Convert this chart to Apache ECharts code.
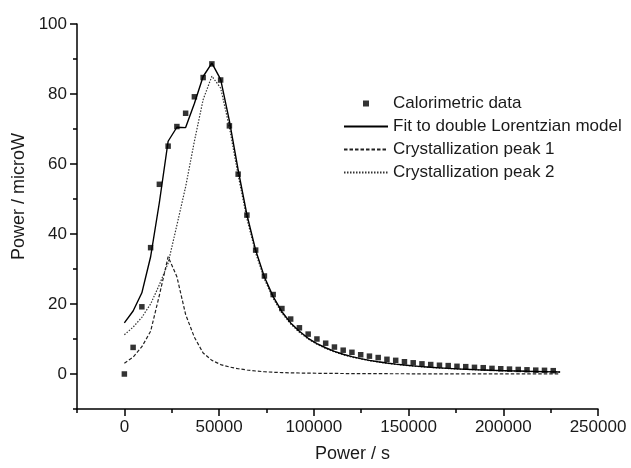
<!DOCTYPE html>
<html>
<head>
<meta charset="utf-8">
<script src="https://cdn.jsdelivr.net/npm/echarts@6/dist/echarts.min.js"></script>
<style>
html,body{margin:0;padding:0;background:#fff;}
#chart{width:631px;height:468px;}
</style>
</head>
<body>
<div id="chart"></div>
<script>
// Time values (s) at which data and model curves are given
const times = [0,4620,9240,13860,18480,23100,27720,32340,36960,41580,46200,50820,55440,60060,64680,69300,73920,78540,83160,87780,92400,97020,101640,106260,110880,115500,120120,124740,129360,133980,138600,143220,147840,152460,157080,161700,166320,170940,175560,180180,184800,189420,194040,198660,203280,207900,212520,217140,221760,226380,230000];

// Calorimetric data (microW)
const calorimetric = [0,7.6,19.2,36.1,54.2,65.1,70.7,74.5,79.2,84.7,88.6,84.0,70.9,57.1,45.4,35.4,28.0,22.7,18.7,15.7,13.2,11.4,10.0,8.8,7.7,6.8,6.2,5.5,5.1,4.7,4.2,3.9,3.5,3.2,2.9,2.7,2.5,2.4,2.2,2.1,1.9,1.8,1.6,1.5,1.4,1.3,1.2,1.1,1.05,0.95];

// Fit to double Lorentzian model
const fitValues = [14.6,18.0,23.2,33.5,49.0,66.5,70.5,70.4,77.3,85.0,88.8,84.2,72.3,58.3,45.5,35.4,27.7,22.1,17.8,14.6,12.2,10.2,8.7,7.5,6.45,5.65,4.95,4.4,3.9,3.5,3.13,2.82,2.57,2.31,2.11,1.92,1.75,1.61,1.47,1.36,1.25,1.16,1.06,0.98,0.91,0.85,0.78,0.73,0.67,0.62,0.59];

// Crystallization peak 1
const peak1 = [3.1,4.8,7.8,12.2,22.5,33.5,27.8,17.0,10.5,6.0,3.9,2.7,2.0,1.5,1.15,0.85,0.65,0.5,0.4,0.33,0.28,0.24,0.21,0.18,0.16,0.14,0.12,0.11,0.1,0.09,0.08,0.07,0.07,0.06,0.06,0.05,0.05,0.05,0.04,0.04,0.04,0.04,0.03,0.03,0.03,0.03,0.03,0.03,0.02,0.02,0.02];

// Crystallization peak 2
const peak2 = [11.2,13.4,16.2,20.0,25.5,31.7,42.5,53.5,66.5,78.4,85.1,81.7,70.5,56.8,44.4,34.6,27.1,21.6,17.4,14.3,11.9,10.0,8.5,7.3,6.3,5.5,4.8,4.3,3.8,3.4,3.05,2.75,2.5,2.25,2.05,1.87,1.7,1.56,1.43,1.32,1.21,1.12,1.03,0.95,0.88,0.82,0.75,0.7,0.65,0.6,0.57];

// Axis ticks
const xMajorTicks = [0,50000,100000,150000,200000,250000];
const xMinorTicks = [-25000,25000,75000,125000,175000,225000];
const yMajorTicks = [0,20,40,60,80,100];
const yMinorTicks = [-10,10,30,50,70,90];

const seriesNames = ['Calorimetric data','Fit to double Lorentzian model','Crystallization peak 1','Crystallization peak 2'];

const pair = (vals) => vals.map((v,i) => [times[i], v]);

const FONT = "'Liberation Sans', Arial, Helvetica, sans-serif";
const TXT = '#1a1a1a';

const chart = echarts.init(document.getElementById('chart'), null, {renderer:'canvas'});

const axisBase = (min, max) => ({
  type:'value', min:min, max:max, splitLine:{show:false}, scale:false
});

const option = {
  animation:false,
  backgroundColor:'#fff',
  textStyle:{fontFamily:FONT},
  grid:{left:77, right:33, top:24, bottom:58.5, containLabel:false},
  legend:{
    orient:'vertical', left:343, top:95, padding:0,
    itemWidth:44, itemHeight:6, itemGap:6,
    textStyle:{fontSize:17, color:TXT, fontFamily:FONT, lineHeight:17},
    data:[
      {name:seriesNames[0], icon:'path://M0,0h10v10h-10z', itemStyle:{color:'#000'}},
      {name:seriesNames[1], itemStyle:{opacity:0}},
      {name:seriesNames[2], itemStyle:{opacity:0}},
      {name:seriesNames[3], itemStyle:{opacity:0}}
    ]
  },
  xAxis:[
    Object.assign(axisBase(-25000,250000), {
      position:'bottom',
      axisLine:{show:true, onZero:false, lineStyle:{color:'#000', width:1.5}},
      axisTick:{show:true, customValues:xMajorTicks, length:7, lineStyle:{color:'#000', width:1.5}},
      axisLabel:{customValues:xMajorTicks, fontSize:17, color:TXT, margin:10, fontFamily:FONT,
        formatter:(v) => String(v)},
      name:'Power / s', nameLocation:'middle', nameGap:36,
      nameTextStyle:{fontSize:18, color:TXT, fontFamily:FONT, padding:[0,0,0,30]}
    }),
    Object.assign(axisBase(-25000,250000), {
      position:'bottom',
      axisLine:{show:false, onZero:false},
      axisTick:{show:true, customValues:xMinorTicks, length:4, lineStyle:{color:'#000', width:1.5}},
      axisLabel:{show:false}
    })
  ],
  yAxis:[
    Object.assign(axisBase(-10,100), {
      position:'left',
      axisLine:{show:true, onZero:false, lineStyle:{color:'#000', width:1.5}},
      axisTick:{show:true, customValues:yMajorTicks, length:7, lineStyle:{color:'#000', width:1.5}},
      axisLabel:{customValues:yMajorTicks, fontSize:17, color:TXT, margin:10, fontFamily:FONT},
      name:'Power / microW', nameLocation:'middle', nameGap:40,
      nameTextStyle:{fontSize:18, color:TXT, fontFamily:FONT, padding:[0,0,0,40]}
    }),
    Object.assign(axisBase(-10,100), {
      position:'left',
      axisLine:{show:false, onZero:false},
      axisTick:{show:true, customValues:yMinorTicks, length:4, lineStyle:{color:'#000', width:1.5}},
      axisLabel:{show:false}
    })
  ],
  series:[
    {
      name:seriesNames[3], type:'line', xAxisIndex:0, yAxisIndex:0,
      data:pair(peak2), symbol:'none', z:2,
      lineStyle:{color:'#333', width:1.2, type:[1.5,1.5]},
      itemStyle:{color:'#333'}
    },
    {
      name:seriesNames[2], type:'line', xAxisIndex:0, yAxisIndex:0,
      data:pair(peak1), symbol:'none', z:3,
      lineStyle:{color:'#222', width:1.2, type:[3.5,2]},
      itemStyle:{color:'#222'}
    },
    {
      name:seriesNames[1], type:'line', xAxisIndex:0, yAxisIndex:0,
      data:pair(fitValues), symbol:'none', z:4,
      lineStyle:{color:'#000', width:1.4, type:'solid'},
      itemStyle:{color:'#000'}
    },
    {
      name:seriesNames[0], type:'scatter', xAxisIndex:0, yAxisIndex:0,
      data:pair(calorimetric), symbol:'rect', symbolSize:5.5, z:5,
      itemStyle:{color:'#000'}
    }
  ]
};
chart.setOption(option);
</script>
</body>
</html>
